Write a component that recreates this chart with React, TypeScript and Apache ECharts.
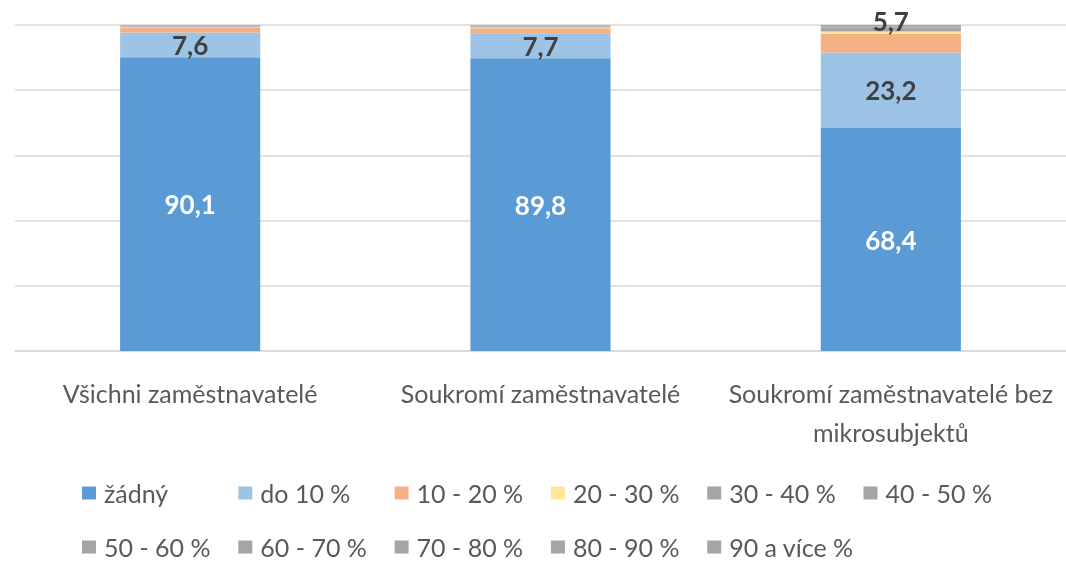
import React, { useEffect, useRef } from "react";
import * as echarts from "echarts";

const categories = [
  "Všichni zaměstnavatelé",
  "Soukromí zaměstnavatelé",
  "Soukromí zaměstnavatelé bez\nmikrosubjektů",
];
const seriesNames = [
  "žádný", "do 10 %", "10 - 20 %", "20 - 30 %", "30 - 40 %", "40 - 50 %",
  "50 - 60 %", "60 - 70 %", "70 - 80 %", "80 - 90 %", "90 a více %",
];
const seriesValues: number[][] = [
  [90.1, 89.8, 68.4],
  [7.6, 7.7, 23.2],
  [1.4, 1.5, 5.7],
  [0.2, 0.2, 0.7],
  [0.2, 0.2, 0.5],
  [0.1, 0.1, 0.3],
  [0.1, 0.1, 0.3],
  [0.1, 0.1, 0.2],
  [0.1, 0.1, 0.2],
  [0.05, 0.1, 0.2],
  [0.05, 0.1, 0.3],
];
const colors = [
  "#5B9BD5", "#9DC3E6", "#F4B183", "#FFE699",
  "#A5A5A5", "#A5A5A5", "#A5A5A5", "#A5A5A5", "#A5A5A5", "#A5A5A5", "#A5A5A5",
];
const labelColors = ["#ffffff", "#404040", "#404040"];
const yTicks = [0, 20, 40, 60, 80, 100];

const FONT = "Lato";

export default function App() {
  const ref = useRef<HTMLDivElement>(null);
  useEffect(() => {
    const chart = echarts.init(ref.current!, null, { renderer: "svg" });
    const fmt = (v: number) => v.toFixed(1).replace(".", ",");
    const series = seriesNames.map((name, i) => ({
      name,
      type: "bar",
      stack: "total",
      barWidth: "40%",
      itemStyle: { color: colors[i] },
      data: seriesValues[i].map((v) => {
        const item: any = { value: v };
        if (i === 2 && v >= 5) {
          item.label = { show: true, position: "top", distance: 0 };
        }
        return item;
      }),
      label: {
        show: i <= 2,
        position: "inside",
        fontFamily: FONT,
        fontSize: 26,
        fontWeight: "bold",
        color: labelColors[i] || "#404040",
        formatter: (p: any) => (p.value >= 5 ? fmt(p.value) : ""),
      },
    }));
    const legends = seriesNames.map((n, i) => {
      const row = i < 6 ? 0 : 1;
      const col = i < 6 ? i : i - 6;
      return {
        data: [n],
        left: 82 + col * 156.3,
        top: row === 0 ? 480 : 534,
        itemWidth: 14,
        itemHeight: 13,
        itemGap: 0,
        icon: "rect",
        padding: 0,
        textStyle: {
          fontFamily: FONT,
          fontSize: 25,
          lineHeight: 26,
          color: "#595959",
          padding: [0, 0, 0, 3],
        },
      };
    });
    chart.setOption({
      animation: false,
      grid: { left: 15, right: -2, top: 25, bottom: 212, containLabel: false },
      xAxis: {
        type: "category",
        data: categories,
        axisLine: { lineStyle: { color: "#d9d9d9", width: 1.5 } },
        axisTick: { show: false },
        axisLabel: {
          fontFamily: FONT,
          fontSize: 25,
          color: "#595959",
          margin: 22,
          lineHeight: 39,
          interval: 0,
        },
      },
      yAxis: {
        type: "value",
        min: yTicks[0],
        max: yTicks[yTicks.length - 1],
        interval: 20,
        axisLabel: { show: false },
        axisLine: { show: false },
        axisTick: { show: false },
        splitLine: { lineStyle: { color: "#d9d9d9", width: 1.5 } },
      },
      legend: legends,
      series,
    });
    return () => chart.dispose();
  }, []);
  return (
    <div
      ref={ref}
      style={{ position: "fixed", left: 0, top: 0, width: 1066, height: 563 }}
    />
  );
}
